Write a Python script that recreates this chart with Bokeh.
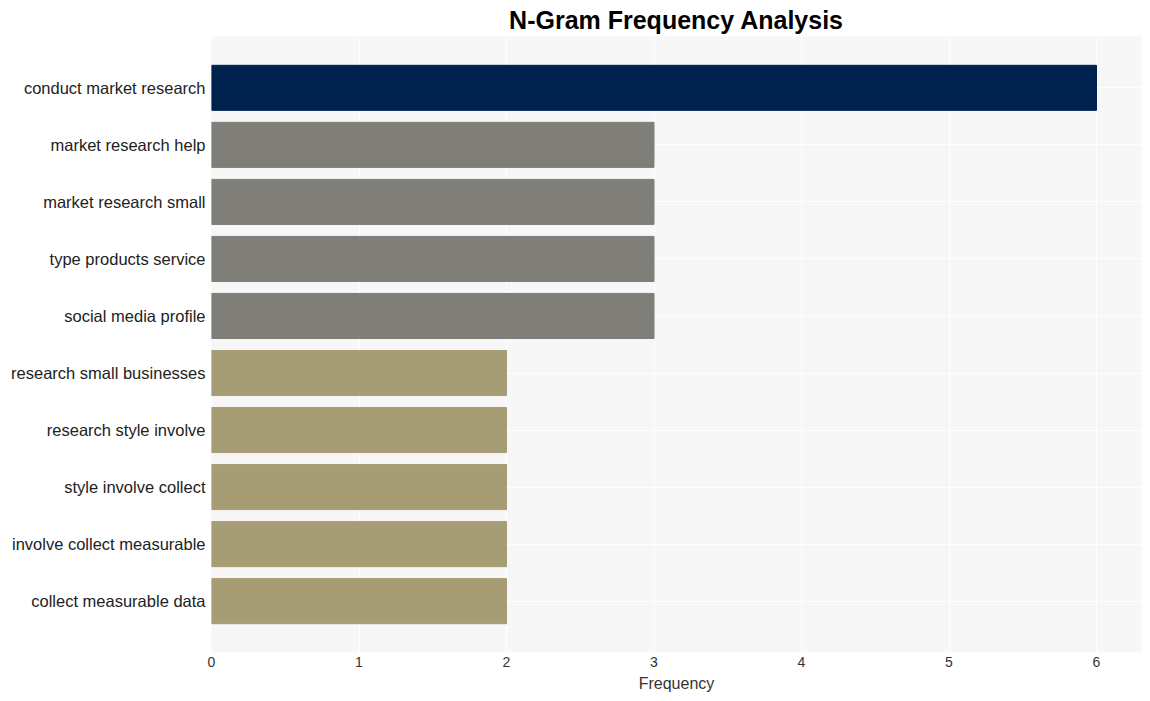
from bokeh.plotting import figure
from bokeh.models import ColumnDataSource, FactorRange, Range1d, SingleIntervalTicker
from bokeh.embed import file_html
from bokeh.resources import INLINE

ngrams = ["conduct market research", "market research help", "market research small",
          "type products service", "social media profile", "research small businesses",
          "research style involve", "style involve collect", "involve collect measurable",
          "collect measurable data"]
counts = [6, 3, 3, 3, 3, 2, 2, 2, 2, 2]
colors = ["#00224e", "#7f7e79", "#7f7e79", "#7f7e79", "#7f7e79",
          "#a69d74", "#a69d74", "#a69d74", "#a69d74", "#a69d74"]

factors = list(reversed(ngrams))
src = ColumnDataSource(dict(y=ngrams, x=counts, c=colors))

p = figure(frame_width=930, frame_height=616, output_backend="svg", toolbar_location=None,
           y_range=FactorRange(factors=factors, range_padding=0.4, range_padding_units="absolute"),
           x_range=Range1d(0, 6.305),
           min_border_left=211, min_border_right=9, min_border_top=35, min_border_bottom=0)
p.title.text = "N-Gram Frequency Analysis"
p.title.text_font = "Liberation Sans"
p.title.text_font_size = "25px"
p.title.text_font_style = "bold"
p.title.align = "center"
p.title.text_color = "#000000"
p.title.standoff = 6

p.hbar(y="y", right="x", left=0, height=0.79, color="c", source=src)

p.background_fill_color = "#f7f7f7"
p.border_fill_color = "white"
p.outline_line_color = None
p.xgrid.grid_line_color = "white"
p.ygrid.grid_line_color = "white"

p.xaxis.ticker = SingleIntervalTicker(interval=1)
p.xaxis.axis_label = "Frequency"
p.xaxis.axis_label_text_font = "Liberation Sans"
p.xaxis.axis_label_text_font_size = "16px"
p.xaxis.axis_label_text_font_style = "normal"
p.xaxis.axis_label_text_color = "#333333"
p.xaxis.axis_label_standoff = 5
p.xaxis.major_label_text_font = "Liberation Sans"
p.xaxis.major_label_text_font_size = "14px"
p.xaxis.major_label_text_color = "#333333"
p.xaxis.major_label_standoff = 0
p.yaxis.major_label_text_font = "Liberation Sans"
p.yaxis.major_label_text_font_size = "16.5px"
p.yaxis.major_label_text_color = "#222222"
p.yaxis.major_label_standoff = 6
for ax in (p.xaxis[0], p.yaxis[0]):
    ax.axis_line_color = None
    ax.major_tick_line_color = None
    ax.minor_tick_line_color = None
    ax.major_tick_out = 0
    ax.major_tick_in = 0

open("out.html", "w").write(file_html(p, INLINE))
